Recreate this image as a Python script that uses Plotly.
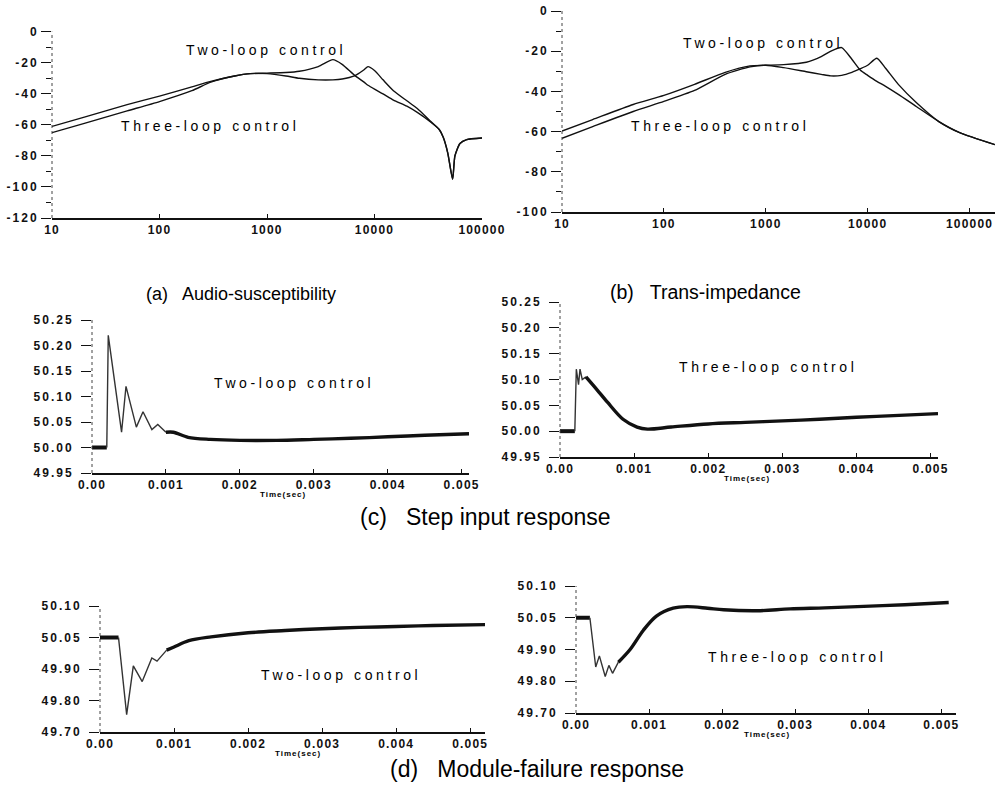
import plotly.graph_objects as go

W, H = 997, 790

# ---------------- data ----------------
# (a) Audio-susceptibility  (dB vs frequency, Hz)
freq_a = [10, 20, 50, 100, 200, 300, 500, 700, 1000, 1500, 2000, 3000, 4100, 5000, 6500,
          8000, 8700, 10000, 12000, 15000, 20000, 25000, 33000, 40000, 43600, 48000, 53300,
          56000, 62400, 72000, 100000]
two_a = [-61, -55, -47, -41.5, -35.5, -32, -28.5, -27, -26.7, -26.3, -25.5, -22.5, -18, -21, -28,
         -32.5, -34.5, -37, -40, -44, -48, -52, -58, -63, -68, -78, -95,
         -80, -72, -69.5, -68.5]
three_a = [-65, -59, -51, -45, -38, -32.5, -28.5, -27, -27, -28.5, -30, -31, -31, -30.5, -28.5,
           -24.5, -22.5, -25, -31, -38, -44.5, -49.5, -57.5, -63, -68, -78, -95,
           -80, -72, -69.5, -68.5]

# (b) Trans-impedance  (dB vs frequency, Hz)
freq_b = [10, 20, 50, 100, 200, 400, 700, 1000, 1500, 2500, 3500, 4350, 5560, 7000, 8500,
          10000, 12300, 15000, 20000, 30000, 50000, 80000, 178000]
two_b = [-59.7, -54, -46.5, -42, -36.5, -30.5, -27.3, -27, -26.7, -25.5, -22.7, -20, -18.2, -24, -29.5,
         -32, -35, -37.5, -41.5, -47.5, -55, -60.5, -66.5]
three_b = [-63.3, -57.5, -50, -45, -39.5, -31.5, -27.8, -27, -28.2, -30.2, -31.5, -32.3, -32, -30.5, -28.7,
           -27, -23.5, -28.5, -36.5, -45.5, -55, -60.5, -66.5]

# (c) Step input response (output voltage vs time, s)
t_c_two = [0, 0.0002, 0.00022, 0.0004, 0.00046, 0.0006, 0.00069, 0.00081, 0.00089, 0.001,
           0.0011, 0.0013, 0.0016, 0.002, 0.0025, 0.003, 0.0035, 0.004, 0.0045, 0.0051]
v_c_two = [50.00, 50.00, 50.22, 50.03, 50.12, 50.04, 50.07, 50.035, 50.045, 50.03,
           50.03, 50.02, 50.016, 50.014, 50.014, 50.016, 50.018, 50.021, 50.024, 50.027]
t_c_three = [0, 0.0002, 0.00022, 0.00025, 0.00027, 0.0003, 0.00035, 0.0005, 0.00064, 0.00085,
             0.00104, 0.00118, 0.0015, 0.002, 0.0025, 0.003, 0.0035, 0.004, 0.0045, 0.0051]
v_c_three = [50.00, 50.00, 50.12, 50.09, 50.12, 50.10, 50.105, 50.08, 50.056, 50.023,
             50.008, 50.004, 50.008, 50.014, 50.017, 50.02, 50.023, 50.027, 50.03, 50.034]

# (d) Module-failure response (output voltage vs time, s)
t_d_two = [0, 0.00025, 0.00036, 0.00045, 0.00057, 0.0007, 0.00077, 0.0009, 0.001, 0.0012,
           0.0015, 0.002, 0.0025, 0.003, 0.0035, 0.004, 0.0045, 0.0052]
v_d_two = [50.00, 50.00, 49.755, 49.91, 49.86, 49.935, 49.925, 49.96, 49.97, 49.99,
           50.002, 50.015, 50.022, 50.028, 50.032, 50.035, 50.038, 50.041]
t_d_three = [0, 0.00019, 0.00027, 0.00032, 0.0004, 0.00045, 0.0005, 0.00058, 0.00074, 0.00092,
             0.0011, 0.00133, 0.00152, 0.0018, 0.00202, 0.00248, 0.00293, 0.0034, 0.00385, 0.0045, 0.0051]
v_d_three = [50.00, 50.00, 49.845, 49.88, 49.815, 49.85, 49.825, 49.86, 49.90, 49.96,
             50.005, 50.03, 50.035, 50.03, 50.025, 50.022, 50.028, 50.031, 50.035, 50.041, 50.048]

# tick values / labels
freq_ticks = [10, 100, 1000, 10000, 100000]
freq_ticktext = ["10", "100", "1000", "10000", "100000"]
a_yticks = [0, -20, -40, -60, -80, -100, -120]
a_yticktext = ["0", "-20", "-40", "-60", "-80", "-100", "-120"]
b_yticks = [0, -20, -40, -60, -80, -100]
b_yticktext = ["0", "-20", "-40", "-60", "-80", "-100"]
c_yticks = [49.95, 50.00, 50.05, 50.10, 50.15, 50.20, 50.25]
c_yticktext = ["49.95", "50.00", "50.05", "50.10", "50.15", "50.20", "50.25"]
d_yticks = [49.70, 49.80, 49.90, 50.00, 50.10]
d_yticktext = ["49.70", "49.80", "49.90", "50.05", "50.10"]
time_ticks = [0, 0.001, 0.002, 0.003, 0.004, 0.005]
time_ticktext = ["0.00", "0.001", "0.002", "0.003", "0.004", "0.005"]

captions = ["(a)\u00a0\u00a0 Audio-susceptibility", "(b)\u00a0\u00a0 Trans-impedance",
            "(c)\u00a0\u00a0 Step input response", "(d)\u00a0\u00a0 Module-failure response"]
two_lbl = "Two-loop control"
three_lbl = "Three-loop control"
time_lbl = "Time(sec)"

# ---------------- layout helpers ----------------
def xdom(x0, x1):
    return [x0 / W, x1 / W]

def ydom(top, bottom):
    return [1 - bottom / H, 1 - top / H]

FONT = "Liberation Sans, Arial, sans-serif"
TICKFONT = dict(family=FONT, size=12, color="#111111", weight="bold")
INK = "#111111"

def spaced(labels, s):
    return [f'<span style="letter-spacing:{s}px">{t}</span>' for t in labels]

fig = go.Figure()

def add_line(n, x, y, width=1.3, shape="spline", color=INK, smoothing=0.8):
    line = dict(color=color, width=width, shape=shape)
    if shape == "spline":
        line["smoothing"] = smoothing
    fig.add_trace(go.Scatter(
        x=x, y=y, mode="lines", xaxis="x" if n == 1 else f"x{n}", yaxis="y" if n == 1 else f"y{n}",
        line=line, showlegend=False, hoverinfo="skip"))

# (a)
add_line(1, freq_a, two_a, 1.4, smoothing=0.6)
add_line(1, freq_a, three_a, 1.4, smoothing=0.6)
# (b)
add_line(2, freq_b, two_b, 1.4, smoothing=0.6)
add_line(2, freq_b, three_b, 1.4, smoothing=0.6)

def add_response(n, t, v, k):
    # pre-step plateau, transient, settled response
    add_line(n, t[:2], v[:2], 4, shape="linear")
    add_line(n, t[1:k], v[1:k], 1.4, shape="linear", color="#333333")
    add_line(n, t[k - 1:], v[k - 1:], 3.4, smoothing=0.9)

add_response(3, t_c_two, v_c_two, 10)
add_response(4, t_c_three, v_c_three, 7)
add_response(5, t_d_two, v_d_two, 8)
add_response(6, t_d_three, v_d_three, 8)

panels = {
    1: dict(xd=xdom(52, 482), yd=ydom(31.7, 218), xtype="log", xr=[1, 5], yr=[-120, 0],
            xt=freq_ticks, xtt=freq_ticktext, yt=a_yticks, ytt=a_yticktext, minor=10, standoff=0),
    2: dict(xd=xdom(562, 995), yd=ydom(11, 212), xtype="log", xr=[1, 5.25], yr=[-100, 0],
            xt=freq_ticks, xtt=freq_ticktext, yt=b_yticks, ytt=b_yticktext, minor=10, standoff=0),
    3: dict(xd=xdom(92, 469), yd=ydom(320, 473), xtype="linear", xr=[0, 0.0051], yr=[49.95, 50.25],
            xt=time_ticks, xtt=time_ticktext, yt=c_yticks, ytt=c_yticktext, minor=None, standoff=5),
    4: dict(xd=xdom(560, 938), yd=ydom(302, 457), xtype="linear", xr=[0, 0.0051], yr=[49.95, 50.25],
            xt=time_ticks, xtt=time_ticktext, yt=c_yticks, ytt=c_yticktext, minor=None, standoff=5),
    5: dict(xd=xdom(100, 485), yd=ydom(606, 732), xtype="linear", xr=[0, 0.0052], yr=[49.70, 50.10],
            xt=time_ticks, xtt=time_ticktext, yt=d_yticks, ytt=d_yticktext, minor=None, standoff=5),
    6: dict(xd=xdom(576, 956), yd=ydom(586, 713), xtype="linear", xr=[0, 0.0052], yr=[49.70, 50.10],
            xt=time_ticks, xtt=time_ticktext, yt=d_yticks, ytt=d_yticktext, minor=None, standoff=5),
}

layout = {}
shapes = []
for n, p in panels.items():
    xs = "" if n == 1 else str(n)
    xa = dict(domain=p["xd"], type=p["xtype"], range=p["xr"], anchor=f"y{xs}", automargin=False,
              showgrid=False, zeroline=False, showline=True, linecolor=INK, linewidth=1.5,
              ticks="inside", ticklen=4, tickcolor=INK, tickvals=p["xt"], ticktext=spaced(p["xtt"], 1.2),
              tickfont=TICKFONT, fixedrange=True)
    ya = dict(domain=p["yd"], range=p["yr"], anchor=f"x{xs}", automargin=False,
              showgrid=False, zeroline=False, showline=False,
              ticks="outside", ticklen=10, tickcolor=INK, tickwidth=1.2, tickvals=p["yt"],
              ticktext=spaced(p["ytt"], 2), tickfont=TICKFONT, fixedrange=True)
    if p["standoff"]:
        ya["ticklabelstandoff"] = p["standoff"]
    if p["minor"]:
        ya["minor"] = dict(dtick=p["minor"], ticks="outside", ticklen=5, tickcolor=INK, showgrid=False)
    layout[f"xaxis{xs}"] = xa
    layout[f"yaxis{xs}"] = ya
    shapes.append(dict(type="line", xref=f"x{xs} domain", yref=f"y{xs} domain",
                       x0=0, x1=0, y0=0, y1=1, line=dict(color="#444444", width=1, dash="dot")))

def ann(text, px, py, size, spacing=None, bold=False, color="#000000"):
    if spacing:
        text = f'<span style="letter-spacing:{spacing}px">{text}</span>'
    if bold:
        text = f"<b>{text}</b>"
    return dict(text=text, x=px / W, y=1 - py / H, xref="paper", yref="paper",
                xanchor="center", yanchor="middle", showarrow=False,
                font=dict(family=FONT, size=size, color=color))

annotations = [
    ann(captions[0], 241, 294, 18),
    ann(captions[1], 705, 292, 19.5),
    ann(captions[2], 485, 517, 23),
    ann(captions[3], 537, 769, 23),
    ann(two_lbl, 266, 50, 14, spacing=3.6),
    ann(three_lbl, 210, 126, 14, spacing=3.6),
    ann(two_lbl, 763, 43, 14, spacing=3.6),
    ann(three_lbl, 720, 126, 14, spacing=3.6),
    ann(two_lbl, 294, 383, 14, spacing=3.6),
    ann(three_lbl, 768, 367, 14, spacing=3.6),
    ann(two_lbl, 341, 675, 14, spacing=3.6),
    ann(three_lbl, 797, 657, 14, spacing=3.6),
    ann(time_lbl, 283, 494, 8, bold=True, spacing=1),
    ann(time_lbl, 747, 478, 8, bold=True, spacing=1),
    ann(time_lbl, 298, 753, 8, bold=True, spacing=1),
    ann(time_lbl, 767, 734, 8, bold=True, spacing=1),
]

fig.update_layout(
    width=W, height=H, margin=dict(l=0, r=0, t=0, b=0),
    paper_bgcolor="white", plot_bgcolor="white",
    showlegend=False, shapes=shapes, annotations=annotations, **layout)

fig.write_html("out.html", config={"displayModeBar": False},
               post_script="document.body.style.margin='0px';")
